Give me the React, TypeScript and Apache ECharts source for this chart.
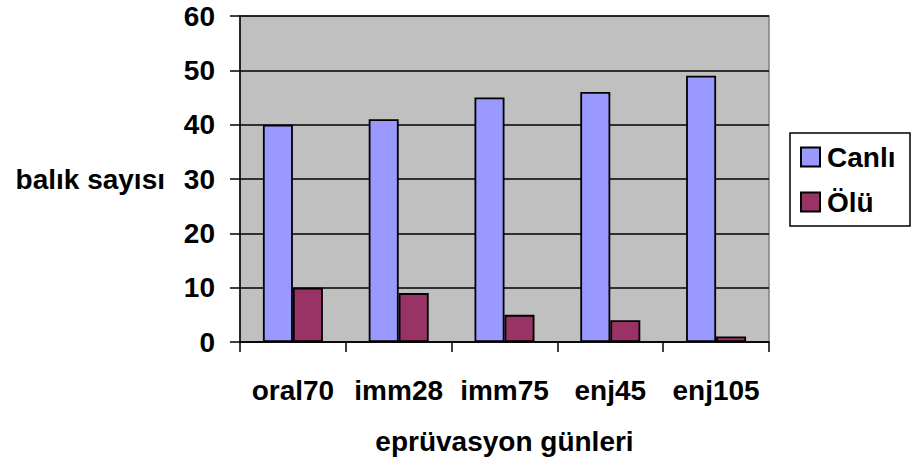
import React, { useEffect, useRef } from "react";
import * as echarts from "echarts";

const categories = ["oral70", "imm28", "imm75", "enj45", "enj105"];
const canli = [40, 41, 45, 46, 49];
const olu = [10, 9, 5, 4, 1];
const yTicks = { min: 0, max: 60, interval: 10 };

const FONT = "'Liberation Sans', Arial, sans-serif";
const FS = 28;

export default function App() {
  const ref = useRef<HTMLDivElement>(null);
  useEffect(() => {
    if (!ref.current) return;
    const chart = echarts.init(ref.current, undefined, { renderer: "svg" });
    chart.setOption({
      animation: false,
      textStyle: { fontFamily: FONT },
      grid: {
        left: 240,
        right: 142,
        top: 16,
        bottom: 125,
        show: true,
        backgroundColor: "#c0c0c0",
        borderColor: "#808080",
        borderWidth: 1.5,
      },
      graphic: [
        {
          type: "rect",
          shape: { x: 790, y: 133, width: 120, height: 93 },
          style: { fill: "#ffffff", stroke: "#000000", lineWidth: 1.5 },
          z: 0,
        },
      ],
      legend: {
        orient: "vertical",
        left: 800,
        top: 143,
        padding: 0,
        itemGap: 17,
        itemWidth: 19,
        itemHeight: 19,
        icon: "rect",
        textStyle: { fontFamily: FONT, fontSize: FS, fontWeight: "bold", color: "#000", lineHeight: 28, padding: [0, 0, 0, 2] },
        z: 5,
      },
      xAxis: {
        type: "category",
        data: categories,
        name: "eprüvasyon günleri",
        nameLocation: "middle",
        nameGap: 85,
        nameTextStyle: { fontFamily: FONT, fontSize: FS, fontWeight: "bold", color: "#000" },
        axisLine: { show: true, lineStyle: { color: "#000", width: 1.5 } },
        axisTick: { show: true, length: 10, lineStyle: { color: "#000", width: 1.5 } },
        axisLabel: { interval: 0, hideOverlap: false, margin: 34, fontFamily: FONT, fontSize: FS, fontWeight: "bold", color: "#000" },
        splitLine: { show: false },
      },
      yAxis: {
        type: "value",
        min: yTicks.min,
        max: yTicks.max,
        interval: yTicks.interval,
        name: "balık sayısı",
        nameLocation: "middle",
        nameRotate: 0,
        nameGap: 75,
        nameTextStyle: { fontFamily: FONT, fontSize: FS, fontWeight: "bold", color: "#000", align: "right" },
        axisLine: { show: true, lineStyle: { color: "#000", width: 1.5 } },
        axisTick: { show: true, length: 10, lineStyle: { color: "#000", width: 1.5 } },
        axisLabel: { margin: 25, fontFamily: FONT, fontSize: FS, fontWeight: "bold", color: "#000" },
        splitLine: { show: true, lineStyle: { color: "#000", width: 1.5 } },
      },
      series: [
        {
          name: "Canlı",
          type: "bar",
          data: canli,
          barWidth: 30,
          barGap: "0%",
          itemStyle: { color: "#9999ff", borderColor: "#000", borderWidth: 1.8 },
        },
        {
          name: "Ölü",
          type: "bar",
          data: olu,
          barWidth: 30,
          barGap: "0%",
          itemStyle: { color: "#993366", borderColor: "#000", borderWidth: 1.8 },
        },
      ],
    });
    return () => chart.dispose();
  }, []);
  return <div ref={ref} style={{ width: 911, height: 467, position: "absolute", left: 0, top: 0 }} />;
}
